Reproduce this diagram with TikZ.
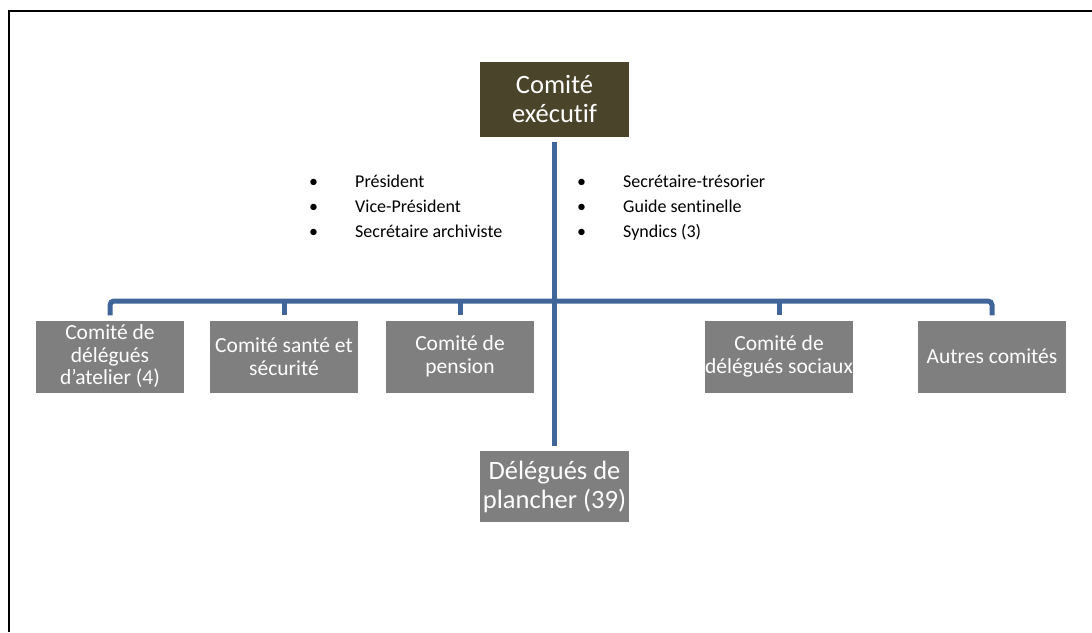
\documentclass[tikz,border=0pt]{standalone}
\usepackage{fontspec}
\setmainfont{Carlito}[Ligatures=NoCommon]
\definecolor{execfill}{RGB}{74,68,42}
\definecolor{boxgray}{RGB}{127,127,127}
\definecolor{conn}{RGB}{64,102,153}
\begin{document}
\begin{tikzpicture}[x=1pt,y=-1pt,
  execbox/.style={fill=execfill,text=white,minimum width=149pt,minimum height=75pt,align=center,inner sep=0pt,font=\fontsize{26.5}{28.5}\selectfont},
  combox/.style={fill=boxgray,text=white,minimum width=148pt,minimum height=72pt,align=center,inner sep=0pt,font=\fontsize{21.5}{22.5}\selectfont},
  bigbox/.style={fill=boxgray,text=white,minimum width=149pt,minimum height=71pt,align=center,inner sep=0pt,font=\fontsize{26.5}{29}\selectfont},
  connline/.style={draw=conn,line width=5pt,rounded corners=4pt},
  gapline/.style={connline,shorten <=5pt,shorten >=5pt},
  listnode/.style={anchor=west,inner sep=0pt,font=\fontsize{18}{25}\selectfont}
]
\useasboundingbox (0,0) rectangle (1092,632);
\draw[line width=2pt] (9,632) -- (9,11) -- (1092,11);

\node[execbox] (ce) at (554.5,99) {Comité\\exécutif};
\node[combox] (b1) at (110,356.5) {Comité de\\délégués\\d’atelier (4)};
\node[combox] (b2) at (284,356.5) {Comité santé et\\sécurité};
\node[combox] (b3) at (460,356.5) {Comité de\\pension};
\node[combox] (b4) at (779,356.5) {Comité de\\délégués sociaux};
\node[combox] (b5) at (992,356.5) {Autres comités};
\node[bigbox] (dp) at (554.5,486.5) {Délégués de\\plancher (39)};

\coordinate (hub) at (554.5,301);

\draw[gapline] (ce.south) -- (dp.north);
\draw[gapline] (b1.north) |- (hub) -| (b5.north);
\foreach \b in {b2,b3,b4}{
  \draw[connline,shorten >=5pt] (hub -| \b.north) -- (\b.north);
}

\node[listnode] (ll) at (309,207) {\begin{tabular}{@{}p{46pt}@{}l@{}}•&Président\\•&Vice-Président\\•&Secrétaire archiviste\end{tabular}};
\node[listnode] (rl) at (577,207) {\begin{tabular}{@{}p{46pt}@{}l@{}}•&Secrétaire-trésorier\\•&Guide sentinelle\\•&Syndics (3)\end{tabular}};
\end{tikzpicture}
\end{document}
